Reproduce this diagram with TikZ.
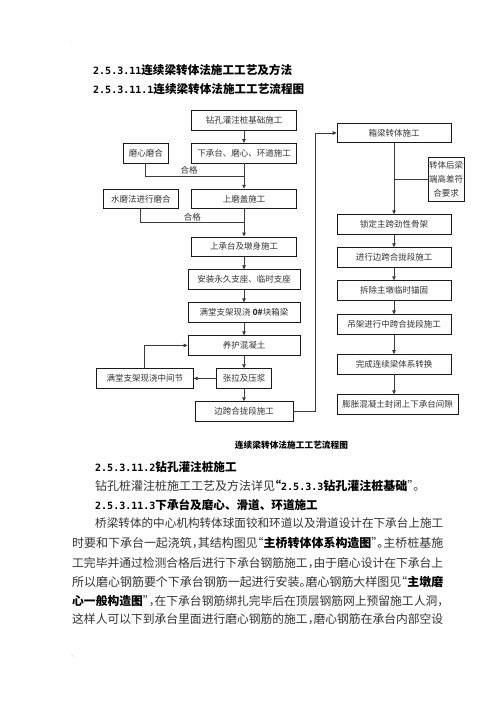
\documentclass[tikz,border=0pt]{standalone}
\usepackage{fontspec}
\setmainfont{Noto Sans CJK SC}
\newfontfamily\bodyfont{Noto Sans CJK SC}[RawFeature=+halt]
\newfontfamily\numfont{DejaVu Sans Mono}
\usetikzlibrary{arrows.meta,positioning,calc}
\definecolor{ink}{HTML}{333333}
\definecolor{edge}{HTML}{1A1A1A}
\definecolor{wire}{HTML}{3C3C3C}
\newcommand{\numtxt}[1]{{\numfont\bfseries\fontsize{10bp}{12bp}\selectfont #1}}
\newcommand{\jline}[2]{\resizebox{#1}{!}{#2}}

\begin{document}
\begin{tikzpicture}[x=1bp,y=-1bp,node distance=12.75bp,
  box/.style={draw=edge,line width=0.7bp,minimum height=19.5bp,inner sep=1bp,
              font=\fontsize{8.5bp}{10bp}\selectfont,text=ink},
  head/.style={anchor=west,inner sep=0pt,font=\fontsize{11.6bp}{14bp}\selectfont\bfseries},
  txt/.style={anchor=west,inner sep=0pt,font=\bodyfont\fontsize{12bp}{14bp}\selectfont,text=ink},
  lab/.style={above,inner sep=1bp,font=\fontsize{8.5bp}{10bp}\selectfont,text=ink},
  ar/.style={-{Triangle[length=4bp,width=3.5bp]},draw=wire,line width=0.8bp},
  ln/.style={draw=wire,line width=0.8bp}]
\useasboundingbox (0,0) rectangle (496,702);
% headings
\node[font=\tiny,text=black!45] (d1) at (72,42) {.};
\node[head] (h1) at (93,70.5) {\numtxt{2.5.3.11}连续梁转体法施工工艺及方法};
\node[head] (h2) at (93,89.5) {\numtxt{2.5.3.11.1}连续梁转体法施工工艺流程图};
% left column
\node[box,minimum width=105bp] (b1) at (244,120.5) {钻孔灌注桩基础施工};
\node[box,minimum width=105bp,below=12.5bp of b1] (b2) {下承台、磨心、环道施工};
\node[box,minimum width=105bp,below=25.5bp of b2] (b3) {上磨盖施工};
\node[box,minimum width=105bp,below=27.5bp of b3] (b4) {上承台及墩身施工};
\node[box,minimum width=112bp,below=of b4] (b5) {安装永久支座、临时支座};
\node[box,minimum width=112bp,below=of b5] (b6) {满堂支架现浇 \textbf{0\#}块箱梁};
\node[box,minimum width=112bp,below=of b6] (b7) {养护混凝土};
\node[box,minimum width=55bp,below=of b7] (b8) {张拉及压浆};
\node[box,minimum width=98bp,below=of b8] (b9) {边跨合拢段施工};
\node[box,minimum width=45bp,left=22.5bp of b2] (s1) {磨心磨合};
\node[box,minimum width=75bp,left=12.5bp of b3] (s2) {水磨法进行磨合};
\node[box,minimum width=97bp,left=22.5bp of b8] (s3) {满堂支架现浇中间节};
% right column
\node[box,minimum width=114bp] (r1) at (394,133) {箱梁转体施工};
\node[box,minimum width=114bp,below=71.25bp of r1] (r2) {锁定主跨劲性骨架};
\node[box,minimum width=114bp,below=of r2] (r3) {进行边跨合拢段施工};
\node[box,minimum width=114bp,below=of r3] (r4) {拆除主墩临时锚固};
\node[box,minimum width=114bp,below=14bp of r4] (r5) {吊架进行中跨合拢段施工};
\node[box,minimum width=114bp,below=19.5bp of r5] (r6) {完成连续梁体系转换};
\node[box,minimum width=121bp,below=20bp of r6.south west,anchor=north west] (r7) {膨胀混凝土封闭上下承台间隙};
\node[box,minimum width=36bp,minimum height=44bp,text width=34bp,align=center,
      font=\fontsize{8.5bp}{14bp}\selectfont] (note) at (446,179) {转体后梁\\端高差符\\合要求};
\coordinate (j1) at ($(b2.south)!.5!(b3.north)$);
\coordinate (j2) at ($(b3.south)!.5!(b4.north)$);
\foreach \x/\y in {b1/b2,b2/b3,b3/b4,b4/b5,b5/b6,b6/b7,b7/b8,b8/b9,r1/r2,r2/r3,r3/r4,r4/r5,r5/r6} \draw[ar](\x)--(\y);
\draw[ar] (r6.south) -- (r6.south |- r7.north);
\draw[ln] (s1.south) |- node[lab,pos=.72]{合格} (j1);
\draw[ln] (s2.south) |- node[lab,pos=.75]{合格} (j2);
\draw[ar] (b8) -- (s3);
\draw[ar] (s3.north) |- (b7.west);
\draw[ar] (b9.east) -- ++(22,0) |- (r1.west);
\draw[ln] (note.west) -- (note.west -| r1.south);
\node[font=\fontsize{8.7bp}{10bp}\selectfont\bfseries] (cap) at (291.5,445) {连续梁转体法施工工艺流程图};
% text below
\node[head] (h3) at (95,467) {\numtxt{2.5.3.11.2}钻孔灌注桩施工};
\node[txt] (p1) at (95,485.5) {钻孔桩灌注桩施工工艺及方法详见{\bfseries\color{black}“\numtxt{2.5.3.3}钻孔灌注桩基础}”。};
\node[head] (h4) at (95,505) {\numtxt{2.5.3.11.3}下承台及磨心、滑道、环道施工};
\node[txt] (l1) at (95,523.5) {\jline{348bp}{桥梁转体的中心机构转体球面铰和环道以及滑道设计在下承台上施工}};
\node[txt] (l2) at (72,543) {\jline{371bp}{时要和下承台一起浇筑，其结构图见“{\bfseries\color{black}主桥转体体系构造图}”。主桥桩基施}};
\node[txt] (l3) at (72,563) {\jline{371bp}{工完毕并通过检测合格后进行下承台钢筋施工，由于磨心设计在下承台上}};
\node[txt] (l4) at (72,582) {\jline{371bp}{所以磨心钢筋要个下承台钢筋一起进行安装。磨心钢筋大样图见“{\bfseries\color{black}主墩磨}}};
\node[txt] (l5) at (72,601) {\jline{371bp}{{\bfseries\color{black}心一般构造图}”，在下承台钢筋绑扎完毕后在顶层钢筋网上预留施工人洞，}};
\node[txt] (l6) at (72,619.5) {\jline{371bp}{这样人可以下到承台里面进行磨心钢筋的施工，磨心钢筋在承台内部空设}};
\node[font=\tiny,text=black!45] (d2) at (73,657) {-.};
\end{tikzpicture}
\end{document}
